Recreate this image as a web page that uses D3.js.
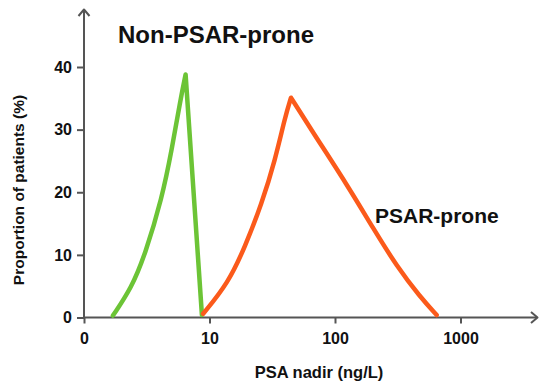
<!DOCTYPE html>
<meta charset="utf-8">
<head>
    <title>PSA nadir</title>
    <script src="https://cdn.jsdelivr.net/npm/d3@7"></script>
</head>

<style>
    body { margin: 0; background: #fff; }
    text { font-family: "Liberation Sans", Arial, Helvetica, sans-serif; font-weight: bold; fill: #111; }
    .axis path, .axis line { stroke: #555; stroke-width: 2px; fill: none; }
    .curve { fill: none; stroke-width: 4.5px; stroke-linejoin: round; stroke-linecap: round; }
</style>

<svg></svg>

<script>
    var vWidth = 550;
    var vHeight = 392;

    // data (x = PSA nadir ng/L, y = % of patients)
    var xTicks = [1, 10, 100, 1000];
    var xTickLabels = ["0", "10", "100", "1000"];
    var yTicks = [0, 10, 20, 30, 40];

    var greenRiseX = [1.7, 2.4, 3.06, 4.18, 5.03, 5.83, 6.45];
    var greenRiseY = [0.3, 4.8, 10, 19, 27, 34.5, 38.8];
    var greenFallX = [6.45, 8.7];
    var greenFallY = [38.8, 0.4];

    var orangeRiseX = [8.9, 14.1, 19.2, 26.1, 33.3, 40, 44.6];
    var orangeRiseY = [0.6, 5.5, 11.3, 18.2, 25.1, 32, 35.1];
    var orangeFallX = [44.6, 67, 124, 202, 310, 476, 646];
    var orangeFallY = [35.1, 29.5, 21.3, 14.2, 8.2, 3.3, 0.4];

    var svg = d3.select('svg').attr('width', vWidth).attr('height', vHeight);

    var x = d3.scaleLog().domain([1, 1000]).range([84, 460.5]);
    var y = d3.scaleLinear().domain([0, 40]).range([317.5, 67]);

    // axes
    var xAxis = svg.append('g').attr('class', 'axis')
        .attr('transform', 'translate(0,' + y(0) + ')')
        .call(d3.axisBottom(x).tickValues(xTicks)
            .tickFormat(function (d, i) { return xTickLabels[i]; })
            .tickSize(6).tickPadding(9).tickSizeOuter(0));
    xAxis.select('.domain').remove();
    xAxis.selectAll('text').style('font-size', '16px').attr('fill', '#111');

    var yAxis = svg.append('g').attr('class', 'axis')
        .attr('transform', 'translate(' + x(1) + ',0)')
        .call(d3.axisLeft(y).tickValues(yTicks)
            .tickSize(7).tickPadding(5).tickSizeOuter(0));
    yAxis.select('.domain').remove();
    yAxis.selectAll('text').style('font-size', '16px').attr('fill', '#111');

    // axis lines with open arrow heads
    var axisG = svg.append('g').attr('class', 'axis');
    axisG.append('path').attr('d', 'M' + x(1) + ',' + y(0) + 'L537,' + y(0));
    axisG.append('path').attr('d', 'M531,' + (y(0) - 5.5) + 'L537.5,' + y(0) + 'L531,' + (y(0) + 5.5))
        .style('stroke-linejoin', 'round');
    axisG.append('path').attr('d', 'M' + x(1) + ',' + y(0) + 'L' + x(1) + ',10');
    axisG.append('path').attr('d', 'M' + (x(1) - 5.5) + ',16L' + x(1) + ',9.5L' + (x(1) + 5.5) + ',16')
        .style('stroke-linejoin', 'round');

    // curves (basis smooths out reading noise, ends stay on the read points)
    var smooth = d3.line().x(function (d) { return x(d[0]); }).y(function (d) { return y(d[1]); })
        .curve(d3.curveBasis);
    var straight = d3.line().x(function (d) { return x(d[0]); }).y(function (d) { return y(d[1]); });

    function pts(xs, ys) { return xs.map(function (v, i) { return [v, ys[i]]; }); }

    var gFall = pts(greenFallX, greenFallY);
    svg.append('path').attr('class', 'curve').attr('stroke', '#6cc436')
        .attr('d', smooth(pts(greenRiseX, greenRiseY)) + straight(gFall).replace(/^M/, 'L'));

    svg.append('path').attr('class', 'curve').attr('stroke', '#fb5a1b')
        .attr('d', smooth(pts(orangeRiseX, orangeRiseY)) + smooth(pts(orangeFallX, orangeFallY)).replace(/^M/, 'L'));

    // labels
    svg.append('text').attr('x', 118).attr('y', 42.5).style('font-size', '24px').text('Non-PSAR-prone');
    svg.append('text').attr('x', 375).attr('y', 223).style('font-size', '21px').text('PSAR-prone');
    svg.append('text').attr('x', 319).attr('y', 378).attr('text-anchor', 'middle')
        .style('font-size', '16.5px').text('PSA nadir (ng/L)');
    svg.append('text').attr('transform', 'translate(24,190) rotate(-90)').attr('text-anchor', 'middle')
        .style('font-size', '15.5px').text('Proportion of patients (%)');
</script>
